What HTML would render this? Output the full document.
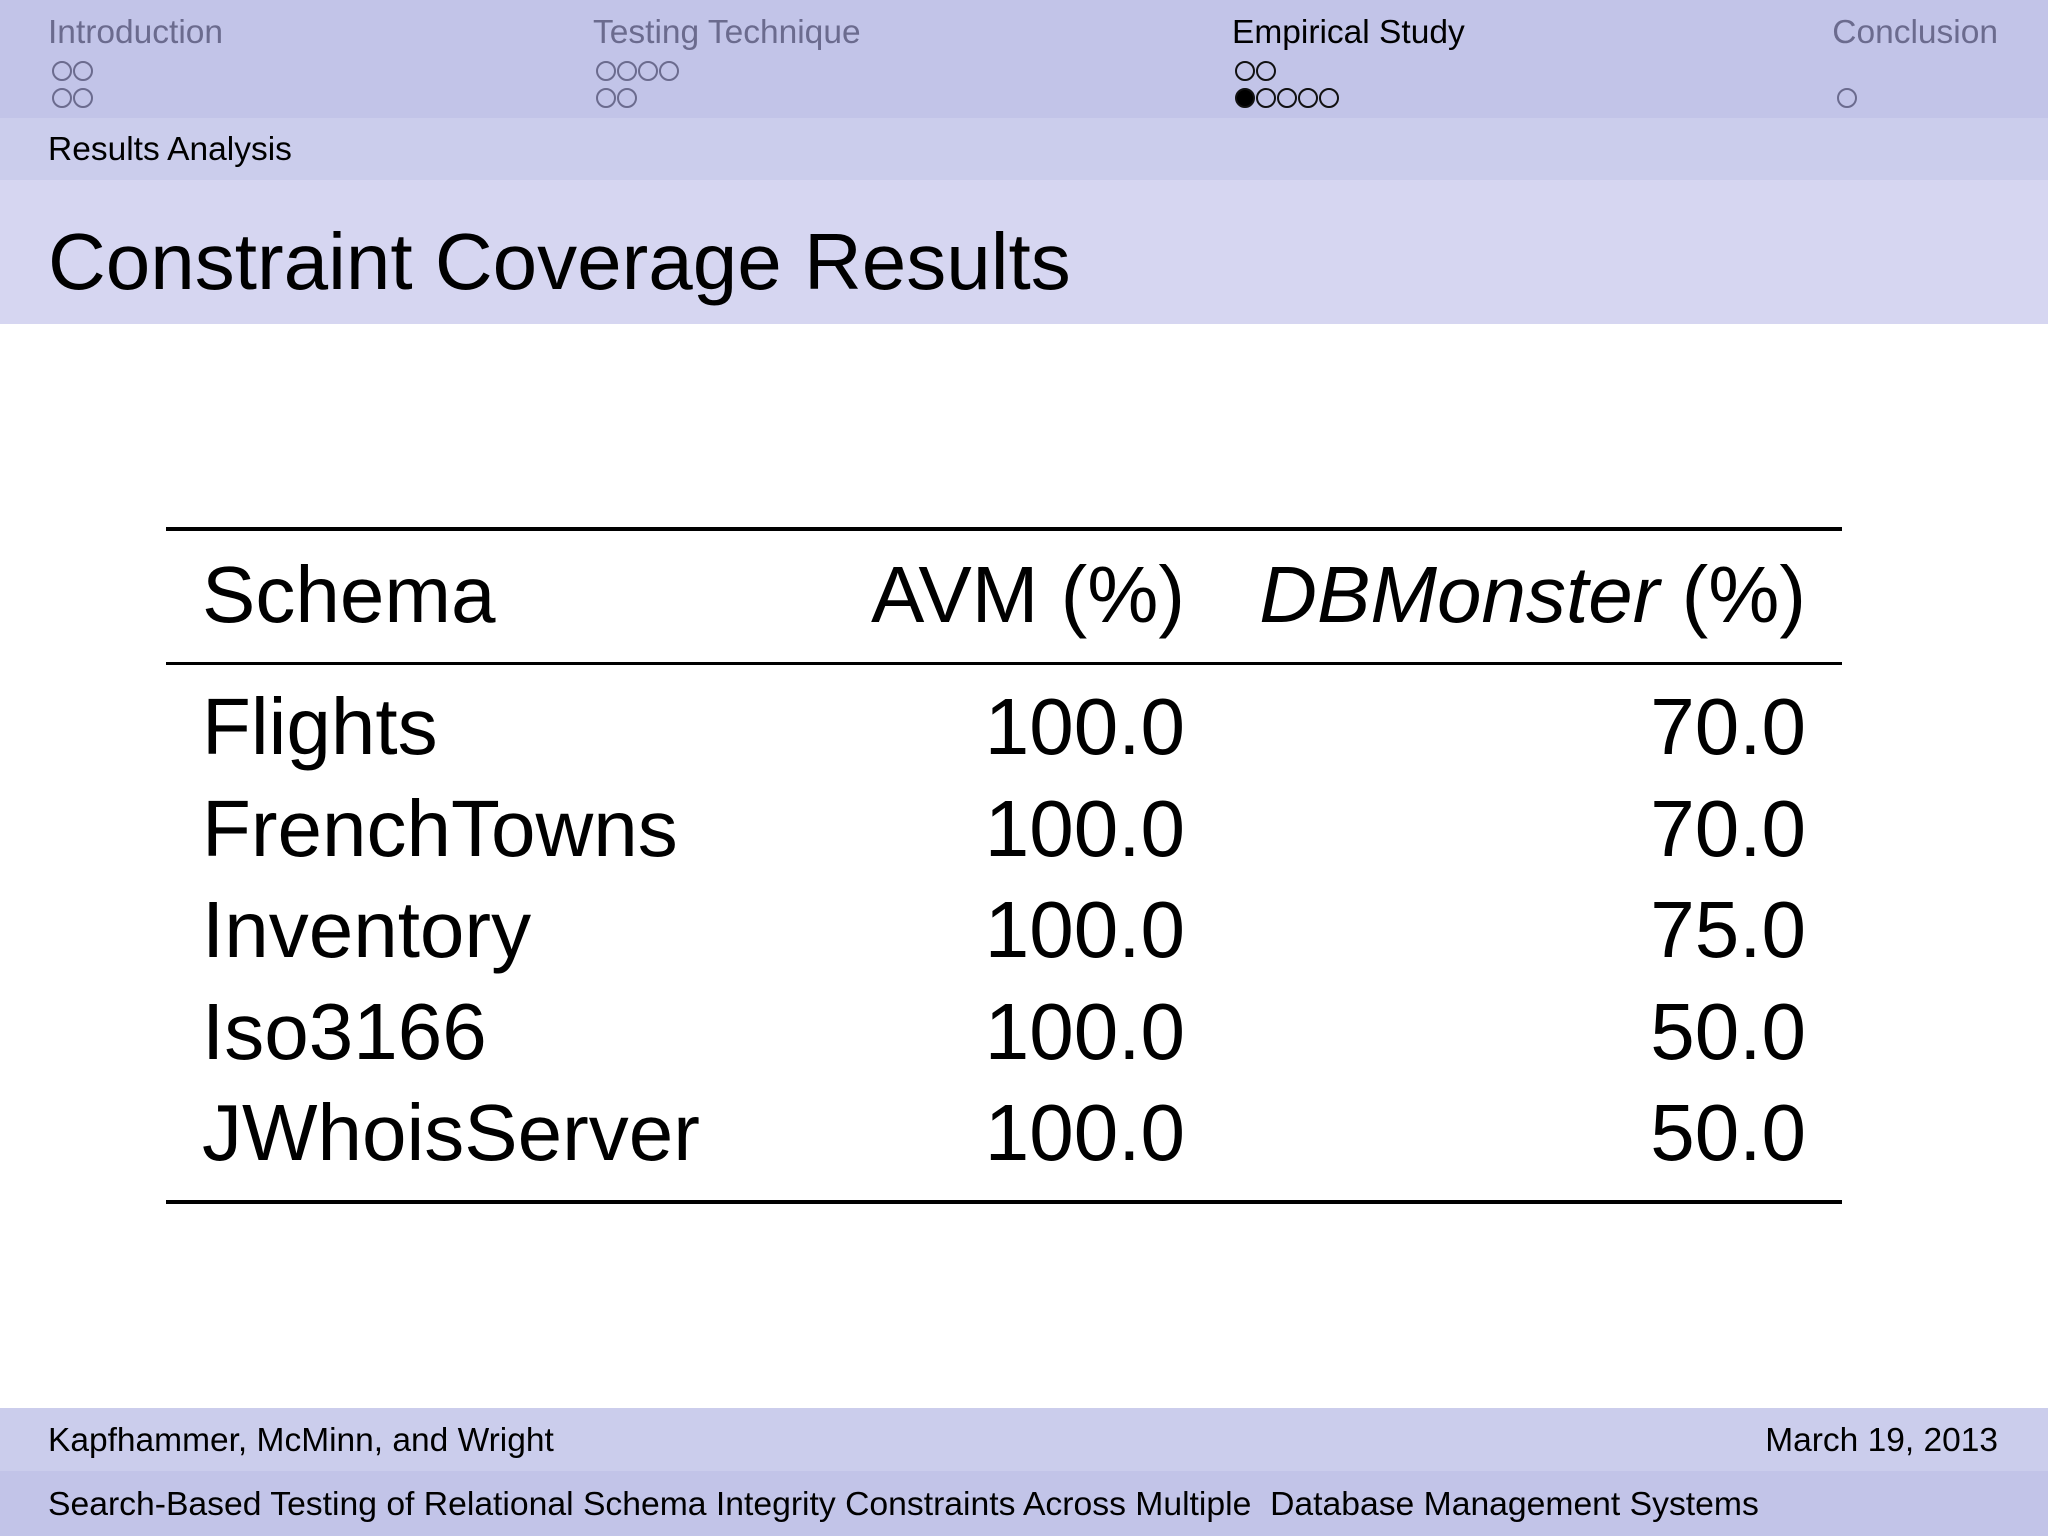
<!DOCTYPE html>
<html><head><meta charset="utf-8"><style>
*{margin:0;padding:0;box-sizing:border-box}
body{width:2048px;height:1536px;position:relative;background:#fff;font-family:"Liberation Sans",sans-serif;overflow:hidden}
.a{position:absolute;white-space:nowrap;line-height:1}
.band{position:absolute;left:0;width:2048px}
.dot{position:absolute;width:20px;height:20px;border:2px solid #6b6b8e;border-radius:50%}
.dot.f{background:#000;border-color:#000}
.dot.k{border-color:#111}
.rule{position:absolute;left:166px;width:1676px;background:#000}
.t{position:absolute;font-size:80px;line-height:1;white-space:nowrap;color:#000}
</style></head><body>
<div class="band" style="top:0;height:118px;background:#c2c4e8"></div>
<div class="band" style="top:118px;height:62px;background:#cbcdec"></div>
<div class="band" style="top:180px;height:144px;background:#d6d6f1"></div>

<div class="a" style="left:48px;top:16px;font-size:33.5px;color:#6b6b8e">Introduction</div>
<div class="a" style="left:593px;top:16px;font-size:33.5px;color:#6b6b8e">Testing Technique</div>
<div class="a" style="left:1232px;top:16px;font-size:33.5px;color:#000">Empirical Study</div>
<div class="a" style="right:50px;top:16px;font-size:33.5px;color:#6b6b8e">Conclusion</div>

<div id="dots"></div>

<div class="a" style="left:48px;top:133px;font-size:33.5px;color:#000">Results Analysis</div>
<div class="a" style="left:48px;top:222px;font-size:80px;color:#000">Constraint Coverage Results</div>

<div class="rule" style="top:527px;height:4px"></div>
<div class="rule" style="top:662px;height:3px"></div>
<div class="rule" style="top:1200px;height:4px"></div>

<div class="t" style="left:202px;top:555px">Schema</div>
<div class="t" style="right:863px;top:555px">AVM (%)</div>
<div class="t" style="right:242px;top:555px"><i>DBMonster</i> (%)</div>

<div id="rows"></div>

<div class="band" style="top:1408px;height:63px;background:#cbcdec"></div>
<div class="band" style="top:1471px;height:65px;background:#c2c4e8"></div>
<div class="a" style="left:48px;top:1424px;font-size:33.5px">Kapfhammer, McMinn, and Wright</div>
<div class="a" style="right:50px;top:1424px;font-size:33.5px">March 19, 2013</div>
<div class="a" style="left:48px;top:1488px;font-size:33.7px">Search-Based Testing of Relational Schema Integrity Constraints Across Multiple&nbsp; Database Management Systems</div>

<script>
const schemas=["Flights","FrenchTowns","Inventory","Iso3166","JWhoisServer"];
const avm=["100.0","100.0","100.0","100.0","100.0"];
const dbm=["70.0","70.0","75.0","50.0","50.0"];
const rows=document.getElementById('rows');
schemas.forEach((s,i)=>{
  const top=687+i*101.5;
  [[s,'left:202px','schema'],[avm[i],'right:863px','avm'],[dbm[i],'right:242px','dbmonster']].forEach(c=>{
    const d=document.createElement('div');
    d.className='t';
    d.setAttribute('style',c[1]+';top:'+top+'px');
    d.textContent=c[0];
    
    
    rows.appendChild(d);
  });
});
const dotGroups=[[52,61,2,-1],[52,88,2,-1],[596,61,4,-1],[596,88,2,-1],[1235,61,2,-1],[1235,88,5,0],[1837,88,1,-1]];
const dots=document.getElementById('dots');
dotGroups.forEach((g,gi)=>{
  for(let k=0;k<g[2];k++){
    const d=document.createElement('div');
    d.className='dot'+(k===g[3]?' f':'')+(g[0]===1235?' k':'');
    d.style.left=(g[0]+k*21)+'px';d.style.top=g[1]+'px';
    
    
    dots.appendChild(d);
  }
});
</script>
</body></html>
